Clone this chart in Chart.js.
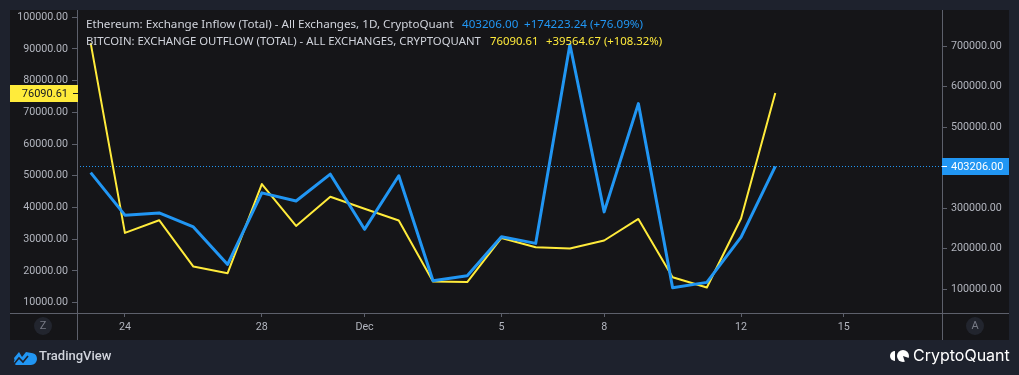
<!DOCTYPE html>
<html>
<head>
<meta charset="utf-8">
<script src="https://cdn.jsdelivr.net/npm/chart.js@4.4.1/dist/chart.umd.min.js"></script>
<style>
html, body { margin: 0; padding: 0; background: #1e222d; }
#wrap { width: 1019px; height: 375px; }
</style>
</head>
<body>
<div id="wrap"><canvas id="chart" width="1019" height="375"></canvas></div>
<script>
// daily values, Nov 23 .. Dec 13
var dates = ['Nov 23', 'Nov 24', 'Nov 25', 'Nov 26', 'Nov 27', 'Nov 28', 'Nov 29', 'Nov 30',
    'Dec 1', 'Dec 2', 'Dec 3', 'Dec 4', 'Dec 5', 'Dec 6', 'Dec 7', 'Dec 8', 'Dec 9',
    'Dec 10', 'Dec 11', 'Dec 12', 'Dec 13'];
var ethInflow = [388000, 283000, 288500, 254000, 161500, 338000, 318000, 384000,
    248000, 380000, 121000, 133500, 229500, 213300, 704000, 291000, 558000,
    104000, 117200, 228982.76, 403206.00];
var btcOutflow = [91800, 32000, 36000, 21400, 19300, 47400, 34200, 43400,
    39600, 35900, 16700, 16500, 30400, 27500, 27100, 29600, 36400,
    18000, 14800, 36525.94, 76090.61];

// tick labels
var xTickPos = [1, 5, 8, 12, 15, 19, 22];
var xTickLabels = ['24', '28', 'Dec', '5', '8', '12', '15'];
var btcTicks = [10000, 20000, 30000, 40000, 50000, 60000, 70000, 80000, 90000, 100000];
var ethTicks = [100000, 200000, 300000, 500000, 600000, 700000];

var ethLabel = 'Ethereum: Exchange Inflow (Total) - All Exchanges, 1D, CryptoQuant';
var btcLabel = 'BITCOIN: EXCHANGE OUTFLOW (TOTAL) - ALL EXCHANGES, CRYPTOQUANT';
var ethChange = '+174223.24 (+76.09%)';
var btcChange = '+39564.67 (+108.32%)';

var BLUE = '#2196f3';
var YELLOW = '#ffeb3b';
var AXIS = '#5d606b';
var TEXT = '#b2b5be';
var FONT = 'Roboto';
var LEGEND_FONT = '"Noto Sans"';

function pts(arr) {
    return arr.map(function (v, i) { return { x: i, y: v }; });
}

// pick a font size so that the text spans the given width
function fitFont(ctx, text, width) {
    ctx.font = '12px ' + LEGEND_FONT;
    var size = 12 * width / ctx.measureText(text).width;
    ctx.font = size.toFixed(2) + 'px ' + LEGEND_FONT;
}

function circleBtn(ctx, x, y, letter) {
    ctx.fillStyle = '#22252e';
    ctx.beginPath();
    ctx.arc(x, y, 9, 0, Math.PI * 2);
    ctx.fill();
    ctx.fillStyle = '#787b86';
    ctx.font = '11px ' + FONT;
    ctx.textAlign = 'center';
    ctx.textBaseline = 'middle';
    ctx.fillText(letter, x, y);
}

var frame = {
    id: 'frame',
    beforeDraw: function (chart) {
        var ctx = chart.ctx;
        ctx.save();
        ctx.fillStyle = '#1e222d';
        ctx.fillRect(0, 0, chart.width, chart.height);
        ctx.fillStyle = '#151518';
        ctx.fillRect(10, 10, 999, 330);
        ctx.restore();
    },
    beforeDatasetsDraw: function (chart) {
        var ctx = chart.ctx, a = chart.chartArea;
        var y = Math.round(chart.scales.yEth.getPixelForValue(ethInflow[ethInflow.length - 1])) + 0.5;
        ctx.save();
        ctx.strokeStyle = BLUE;
        ctx.lineWidth = 1;
        ctx.setLineDash([1, 2]);
        ctx.beginPath();
        ctx.moveTo(a.left, y);
        ctx.lineTo(a.right, y);
        ctx.stroke();
        ctx.restore();
    },
    afterDraw: function (chart) {
        var ctx = chart.ctx, a = chart.chartArea;
        ctx.save();
        // axis lines
        ctx.strokeStyle = AXIS;
        ctx.lineWidth = 1;
        ctx.beginPath();
        ctx.moveTo(10, a.bottom + 0.5); ctx.lineTo(1009, a.bottom + 0.5);
        ctx.moveTo(a.left + 0.5, 10); ctx.lineTo(a.left + 0.5, 340);
        ctx.moveTo(a.right + 0.5, 10); ctx.lineTo(a.right + 0.5, 340);
        ctx.stroke();

        // last value labels on the axes
        var yb = Math.round(chart.scales.yBtc.getPixelForValue(btcOutflow[btcOutflow.length - 1]));
        ctx.fillStyle = YELLOW;
        ctx.fillRect(10, yb - 8, a.left - 9, 17);
        ctx.fillStyle = '#131722';
        ctx.fillRect(a.left - 4, yb, 5, 1);
        ctx.font = '11px ' + FONT;
        ctx.textAlign = 'right';
        ctx.textBaseline = 'middle';
        ctx.fillText(btcOutflow[btcOutflow.length - 1].toFixed(2), a.left - 9, yb + 1);

        var ye = Math.round(chart.scales.yEth.getPixelForValue(ethInflow[ethInflow.length - 1]));
        ctx.fillStyle = BLUE;
        ctx.fillRect(a.right, ye - 8, 1009 - a.right, 17);
        ctx.fillStyle = '#ffffff';
        ctx.fillRect(a.right, ye, 5, 1);
        ctx.textAlign = 'left';
        ctx.fillText(ethInflow[ethInflow.length - 1].toFixed(2), a.right + 9, ye + 1);

        // legend lines
        ctx.textBaseline = 'middle';
        fitFont(ctx, ethLabel, 368);
        ctx.fillStyle = '#d1d4dc';
        ctx.fillText(ethLabel, 86, 25);
        ctx.fillStyle = BLUE;
        ctx.fillText(ethInflow[ethInflow.length - 1].toFixed(2), 462, 25);
        ctx.fillText(ethChange, 524, 25);

        fitFont(ctx, btcLabel, 395);
        ctx.fillStyle = '#d1d4dc';
        ctx.fillText(btcLabel, 86, 42);
        ctx.fillStyle = YELLOW;
        ctx.fillText(btcOutflow[btcOutflow.length - 1].toFixed(2), 490, 42);
        ctx.fillText(btcChange, 546, 42);

        circleBtn(ctx, 43, 326, 'Z');
        circleBtn(ctx, 975, 326, 'A');

        // TradingView mark
        ctx.fillStyle = '#2196f3';
        ctx.beginPath();
        ctx.arc(31, 359, 6, Math.PI * 0.5, Math.PI * 1.6, true);
        ctx.lineTo(26, 352);
        ctx.lineTo(22, 357);
        ctx.lineTo(19, 352);
        ctx.lineTo(14, 358);
        ctx.arc(17, 362, 3, Math.PI * 1.2, Math.PI * 0.5, true);
        ctx.closePath();
        ctx.fill();
        ctx.strokeStyle = '#1e222d';
        ctx.lineWidth = 1.6;
        ctx.beginPath();
        ctx.moveTo(14, 364);
        ctx.lineTo(19, 358);
        ctx.lineTo(23, 362);
        ctx.lineTo(28, 356);
        ctx.stroke();
        ctx.fillStyle = '#d1d4dc';
        ctx.font = '500 13px ' + FONT;
        ctx.textAlign = 'left';
        ctx.textBaseline = 'middle';
        ctx.fillText('TradingView', 39, 357);

        // CryptoQuant mark
        ctx.fillStyle = '#ffffff';
        ctx.beginPath();
        ctx.arc(895, 356, 5, Math.PI * 0.5, Math.PI * 1.5);
        ctx.closePath();
        ctx.fill();
        ctx.beginPath();
        ctx.arc(903, 356, 6, 0, Math.PI * 2);
        ctx.fill();
        ctx.fillStyle = '#1e222d';
        ctx.beginPath();
        ctx.moveTo(903, 356);
        ctx.arc(903, 356, 7, Math.PI * 0.1, Math.PI * 0.4);
        ctx.closePath();
        ctx.fill();
        ctx.fillStyle = '#ffffff';
        ctx.font = '16px Inter';
        ctx.fillText('CryptoQuant', 913, 356);
        ctx.restore();
    }
};

var tickFont = { family: FONT, size: 10.7 };

new Chart(document.getElementById('chart').getContext('2d'), {
    type: 'line',
    data: {
        datasets: [{
            label: 'ETH exchange inflow',
            data: pts(ethInflow),
            yAxisID: 'yEth',
            borderColor: BLUE,
            borderWidth: 3,
            pointRadius: 0,
            borderJoinStyle: 'round',
            tension: 0
        }, {
            label: 'BTC exchange outflow',
            data: pts(btcOutflow),
            yAxisID: 'yBtc',
            borderColor: YELLOW,
            borderWidth: 2,
            pointRadius: 0,
            borderJoinStyle: 'round',
            tension: 0
        }]
    },
    options: {
        responsive: false,
        animation: false,
        devicePixelRatio: 1,
        layout: { padding: { left: 10, right: 10, top: 10, bottom: 35 } },
        plugins: { legend: { display: false }, tooltip: { enabled: false } },
        scales: {
            x: {
                type: 'linear',
                min: -0.4,
                max: 24.87,
                afterFit: function (s) { s.height = 27; },
                afterBuildTicks: function (s) { s.ticks = xTickPos.map(function (v) { return { value: v }; }); },
                border: { display: false },
                grid: { drawOnChartArea: false, tickLength: 4, color: AXIS },
                ticks: {
                    color: TEXT, font: tickFont, padding: 4, maxRotation: 0, autoSkip: false,
                    callback: function (v) { return xTickLabels[xTickPos.indexOf(v)]; }
                }
            },
            yBtc: {
                position: 'left',
                min: 6760,
                max: 102100,
                afterFit: function (s) { s.width = 67; },
                afterBuildTicks: function (s) { s.ticks = btcTicks.map(function (v) { return { value: v }; }); },
                border: { display: false },
                grid: { drawOnChartArea: false, tickLength: 5, color: AXIS },
                ticks: { color: TEXT, font: tickFont, padding: 4, callback: function (v) { return v.toFixed(2); } }
            },
            yEth: {
                position: 'right',
                min: 41626,
                max: 787931,
                afterFit: function (s) { s.width = 67; },
                afterBuildTicks: function (s) { s.ticks = ethTicks.map(function (v) { return { value: v }; }); },
                border: { display: false },
                grid: { drawOnChartArea: false, tickLength: 5, color: AXIS },
                ticks: { color: TEXT, font: tickFont, padding: 4, callback: function (v) { return v.toFixed(2); } }
            }
        }
    },
    plugins: [frame]
});
</script>
</body>
</html>
